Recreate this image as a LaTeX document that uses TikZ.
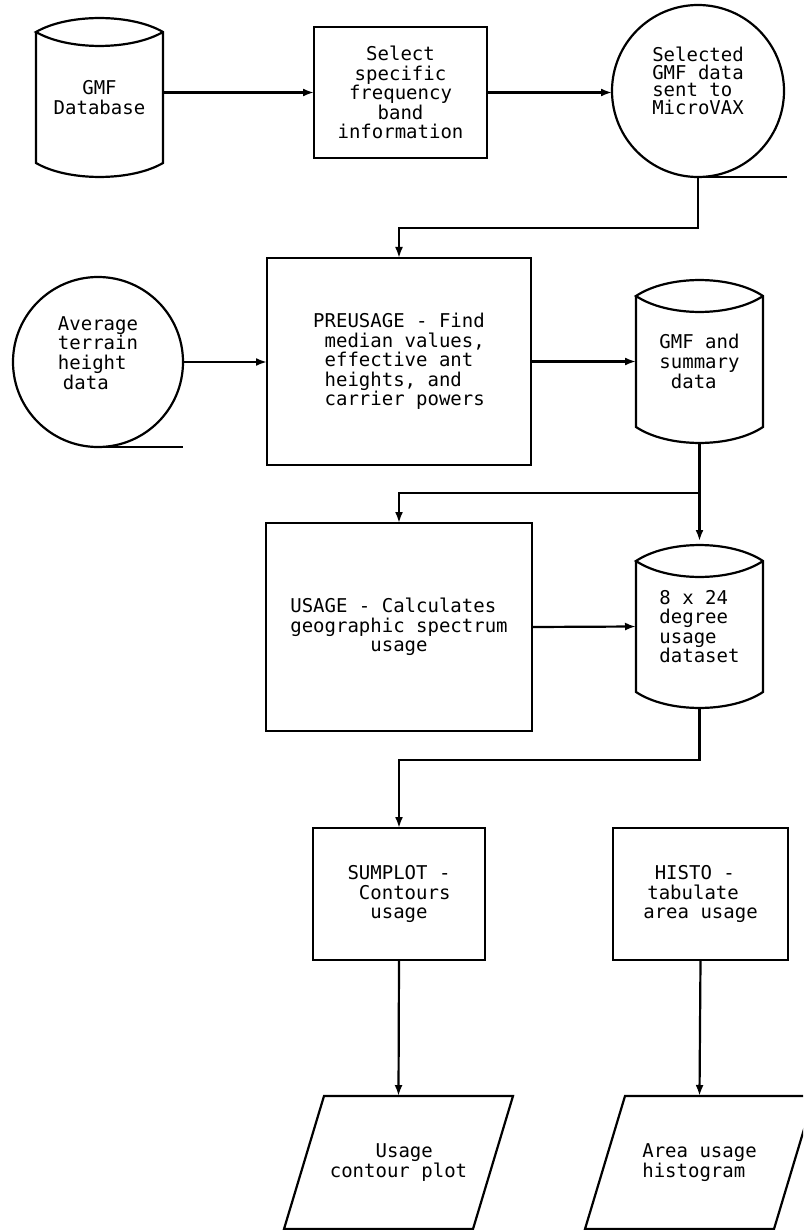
\documentclass[tikz,border=0pt]{standalone}
\usepackage{fontspec}
\newfontfamily\plotfont{DejaVu Sans Mono}
\usetikzlibrary{calc,arrows.meta}
\newcommand\ind[1]{\hphantom{#1}}
% cylinder outline drawn round a named node: #1 node, #2 arc sag, #3 quarter width
\newcommand\cylout[3]{%
  \draw[ln] ($(#1.north west)+(0,#2)$) -- ($(#1.south west)+(0,-#2)$)
     .. controls +(#3,1.33*#2) and +(-#3,1.33*#2) .. ($(#1.south east)+(0,-#2)$)
     -- ($(#1.north east)+(0,#2)$)
     .. controls +(-#3,-1.33*#2) and +(#3,-1.33*#2) .. ($(#1.north west)+(0,#2)$)
     .. controls +(#3,1.33*#2) and +(-#3,1.33*#2) .. ($(#1.north east)+(0,#2)$);}
% parallelogram outline round a named node: #1 node, #2 skew
\newcommand\paraout[2]{%
  \draw[ln] ($(#1.north west)+(#2,0)$) -- (#1.north east)
     -- ($(#1.south east)+(-#2,0)$) -- (#1.south west) -- cycle;}
\tikzset{
  every node/.style={font=\plotfont\fontsize{19}{19.6}\selectfont, inner sep=0pt, outer sep=0pt},
  ln/.style={line width=2.2pt},
  box/.style={draw, rectangle, ln},
  cylbody/.style={rectangle, draw=none},
  tape/.style={draw, circle, ln},
  flow/.style={ln, -{Latex[length=11pt,width=8pt]}},
}
\begin{document}
\begin{tikzpicture}[x=1pt,y=-1pt]
\useasboundingbox (0,0) rectangle (803,1230);
\fill[white] (0,0) rectangle (803,1230);
\clip (0,0) rectangle (803,1230);

% row 1
\node[cylbody, minimum width=127pt, minimum height=159pt, align=center] (db) at (99.5,97.5) {GMF\\Database};
\cylout{db}{14}{32}
\node[box, minimum width=173pt, minimum height=131pt, align=center] (sel) at (400.5,92.5)
  {Select\\specific\\frequency\\band\\information};
\node[tape, minimum size=172pt,
  label={[align=left, yshift=10pt, font=\plotfont\fontsize{19}{17.7}\selectfont]center:{Selected\\GMF data\\sent to\\MicroVAX}}] (selc) at (698,91) {};
\draw[ln] (selc.south) -- ++(89,0);

% row 2
\node[tape, minimum size=170pt,
  label={[align=left, yshift=9pt]center:{Average\\terrain\\height\\\hspace*{5pt}data}}] (avg) at (98,362) {};
\draw[ln] (avg.south) -- ++(85,0);
\node[box, minimum width=264pt, minimum height=207pt, align=left] (pre) at (399,361.5)
  {PREUSAGE - Find\\\ind{x}median values,\\\ind{x}effective ant\\\ind{x}heights, and\\\ind{x}carrier powers};
\node[cylbody, minimum width=127pt, minimum height=163pt, align=left] (gsum) at (699.5,361.5)
  {GMF and\\summary\\\ind{x}data};
\cylout{gsum}{16}{32}

% row 3
\node[box, minimum width=266pt, minimum height=208pt, align=left] (usage) at (399,627)
  {USAGE - Calculates\\geographic spectrum\\\ind{xxxxxxx}usage};
\node[cylbody, minimum width=127pt, minimum height=163pt, align=left] (grid) at (699.5,626.5)
  {8 x 24\\degree\\usage\\dataset};
\cylout{grid}{16}{32}

% row 4
\node[box, minimum width=172pt, minimum height=132pt, align=left] (sum) at (399,894)
  {SUMPLOT -\\\ind{x}Contours\\\ind{xx}usage};
\node[box, minimum width=175pt, minimum height=132pt, align=left] (histo) at (700.5,894)
  {\ind{x}HISTO -\\\hspace*{4pt}tabulate\\area usage};

% row 5
\node[cylbody, minimum width=229pt, minimum height=133pt, align=left] (plot) at (398.5,1162.5)
  {\ind{xxxx}Usage\\contour plot};
\paraout{plot}{40}
\node[cylbody, minimum width=229pt, minimum height=133pt, align=left] (area) at (699.5,1162.5)
  {Area usage\\histogram};
\paraout{area}{40}

% connectors
\draw[flow] (db.east |- sel.west) -- (sel.west);
\draw[flow] (sel.east) -- (sel.east -| selc.west);
\draw[flow] (selc.south) -- ++(0,51) -| (pre.north);
\draw[flow] (avg.east) -- (avg.east -| pre.west);
\draw[flow] (pre.east) -- (gsum.west);
\draw[flow, shorten >=4pt] (gsum.south) -- (grid.north);
\coordinate (j1) at ($(gsum.south)+(0,50)$);
\draw[flow] (j1) -| (usage.north);
\draw[flow] (usage.east) -- (grid.west);
\draw[flow] (grid.south) -- ++(0,52) -| (sum.north);
\draw[flow] (sum.south) -- (plot.north);
\draw[flow] (histo.south) -- (area.north);
\end{tikzpicture}
\end{document}
